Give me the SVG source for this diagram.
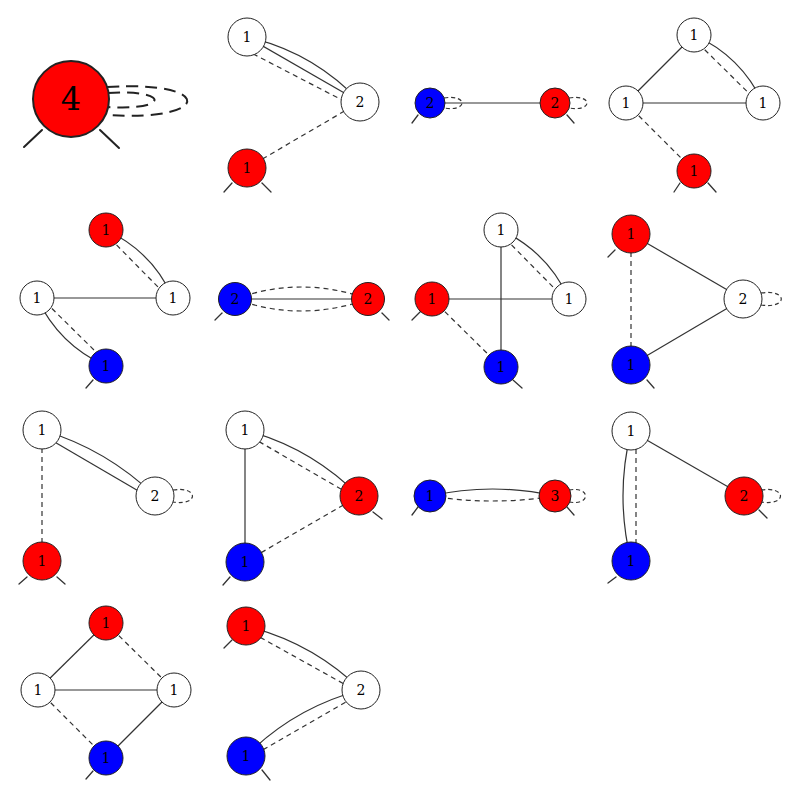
<svg xmlns="http://www.w3.org/2000/svg" width="800" height="800" viewBox="0 0 800 800">
<style>
.e{fill:none;stroke:#333;stroke-width:1.2}
.d{fill:none;stroke:#333;stroke-width:1.2;stroke-dasharray:5,4}
.lg{fill:none;stroke:#333;stroke-width:1.3;stroke-linecap:round}
.n circle{stroke:#222;stroke-width:1}
.w{fill:#fff}.r{fill:#ff0000}.b{fill:#0000ff}
text{font-family:"DejaVu Serif","Liberation Serif",serif;font-size:14px;text-anchor:middle;dominant-baseline:central;fill:#000}
</style>
<rect width="800" height="800" fill="#fff"/>
<g id="connectors">
<!-- panel 1 -->
<path d="M107 87 C214 80,214 122,107 115" style="fill:none;stroke:#222;stroke-width:2;stroke-dasharray:12,7"/>
<path d="M108 93 C170 89,170 111,108 107" style="fill:none;stroke:#222;stroke-width:2;stroke-dasharray:12,7"/>
<line x1="42" y1="130" x2="24" y2="147" style="stroke:#222;stroke-width:2;stroke-linecap:round"/>
<line x1="100" y1="130" x2="119" y2="148" style="stroke:#222;stroke-width:2;stroke-linecap:round"/>
<!-- panel 2 -->
<path class="e" d="M247 37 Q313.5 52.2 360 102"/>
<line class="e" x1="247" y1="37" x2="360" y2="102"/>
<line class="d" x1="245" y1="49.7" x2="352" y2="105.2"/>
<line class="d" x1="360" y1="102" x2="247" y2="168"/>
<line class="lg" x1="232" y1="183" x2="224" y2="192"/>
<line class="lg" x1="262" y1="183" x2="271" y2="192"/>
<!-- panel 3 -->
<line class="e" x1="430" y1="103" x2="555" y2="103"/>
<path class="d" d="M444 98 C468 94,468 112,444 108" style="stroke-dasharray:4,3"/>
<path class="d" d="M569 98 C593 94,593 112,569 108" style="stroke-dasharray:4,3"/>
<line class="lg" x1="418" y1="115" x2="412" y2="123"/>
<line class="lg" x1="567" y1="115" x2="574" y2="123"/>
<!-- panel 4 -->
<line class="e" x1="694" y1="35" x2="626" y2="103"/>
<line class="e" x1="626" y1="103" x2="763" y2="103"/>
<path class="e" d="M694 35 Q741 56 763 103"/>
<line class="d" x1="691.9" y1="37.1" x2="760.9" y2="105.1"/>
<line class="d" x1="626" y1="103" x2="694" y2="171"/>
<line class="lg" x1="680" y1="183" x2="674" y2="192"/>
<line class="lg" x1="708" y1="183" x2="716" y2="192"/>
<!-- panel 5 -->
<path class="e" d="M106 230 Q152.3 251.4 173 298"/>
<line class="d" x1="103.9" y1="232.1" x2="170.9" y2="300.1"/>
<line class="e" x1="37" y1="298" x2="173" y2="298"/>
<path class="e" d="M37 298 Q58.9 344.8 106 366"/>
<line class="d" x1="39.1" y1="295.9" x2="108.1" y2="363.9"/>
<line class="lg" x1="93" y1="380" x2="86" y2="388"/>
<!-- panel 6 -->
<line class="e" x1="235" y1="299" x2="368" y2="299"/>
<path class="d" d="M235 299 Q301.5 275 368 299"/>
<path class="d" d="M235 299 Q301.5 323 368 299"/>
<line class="lg" x1="222" y1="313" x2="215" y2="320"/>
<line class="lg" x1="382" y1="313" x2="389" y2="320"/>
<!-- panel 7 -->
<line class="e" x1="501" y1="230" x2="501" y2="367"/>
<line class="e" x1="432" y1="299" x2="569" y2="299"/>
<path class="e" d="M501 230 Q547.8 251.9 569 299"/>
<line class="d" x1="498.9" y1="232.1" x2="566.9" y2="301.1"/>
<line class="d" x1="432" y1="299" x2="501" y2="367"/>
<line class="lg" x1="420" y1="312" x2="412" y2="320"/>
<line class="lg" x1="513" y1="380" x2="522" y2="388"/>
<!-- panel 8 -->
<line class="e" x1="631" y1="234" x2="743" y2="299"/>
<line class="e" x1="631" y1="365" x2="743" y2="299"/>
<line class="d" x1="631" y1="234" x2="631" y2="365"/>
<path class="d" d="M761 293 C788 289,788 309,761 305" style="stroke-dasharray:4,3"/>
<line class="lg" x1="615" y1="250" x2="608" y2="257"/>
<line class="lg" x1="647" y1="380" x2="654" y2="388"/>
<!-- panel 9 -->
<path class="e" d="M42 430 Q106.6 449.2 155 496"/>
<line class="e" x1="40" y1="433.5" x2="153" y2="499.5"/>
<line class="d" x1="42" y1="430" x2="42" y2="561"/>
<path class="d" d="M173 490 C199 486,199 506,173 502" style="stroke-dasharray:4,3"/>
<line class="lg" x1="27" y1="577" x2="19" y2="584"/>
<line class="lg" x1="57" y1="577" x2="65" y2="584"/>
<!-- panel 10 -->
<line class="e" x1="245" y1="430" x2="245" y2="562"/>
<path class="e" d="M245 430 Q311 447.4 359 496"/>
<line class="d" x1="243.5" y1="432.6" x2="357.5" y2="498.6"/>
<line class="d" x1="359" y1="496" x2="245" y2="562"/>
<line class="lg" x1="373" y1="512" x2="382" y2="519"/>
<line class="lg" x1="230" y1="577" x2="223" y2="585"/>
<!-- panel 11 -->
<path class="e" d="M430 496 Q492.5 482 555 496"/>
<path class="d" d="M430 496 Q492.5 506 555 496"/>
<path class="d" d="M569 490 C591 486,591 506,569 502" style="stroke-dasharray:4,3"/>
<line class="lg" x1="418" y1="507" x2="412" y2="515"/>
<line class="lg" x1="567" y1="507" x2="574" y2="515"/>
<!-- panel 12 -->
<line class="e" x1="631" y1="431" x2="744" y2="496"/>
<path class="e" d="M631 431 Q615 496 631 561"/>
<line class="d" x1="636" y1="431" x2="636" y2="561"/>
<path class="d" d="M761 490 C787 486,787 506,761 502" style="stroke-dasharray:4,3"/>
<line class="lg" x1="759" y1="510" x2="767" y2="518"/>
<line class="lg" x1="616" y1="577" x2="608" y2="583"/>
<!-- panel 13 -->
<line class="e" x1="106" y1="623" x2="38" y2="690"/>
<line class="d" x1="106" y1="623" x2="174" y2="690"/>
<line class="e" x1="38" y1="690" x2="174" y2="690"/>
<line class="d" x1="38" y1="690" x2="106" y2="758"/>
<line class="e" x1="174" y1="690" x2="106" y2="758"/>
<line class="lg" x1="93" y1="771" x2="86" y2="779"/>
<!-- panel 14 -->
<path class="e" d="M246 626 Q312.2 642.3 361 690"/>
<line class="d" x1="244.5" y1="628.6" x2="359.5" y2="692.6"/>
<path class="e" d="M246 756 Q294.5 707.4 361 690"/>
<line class="d" x1="247.5" y1="758.6" x2="362.5" y2="692.6"/>
<line class="lg" x1="232" y1="640" x2="224" y2="648"/>
<line class="lg" x1="262" y1="770" x2="270" y2="780"/>
</g>
<g id="p1-n1" class="n"><circle class="r" cx="71" cy="99" r="38" style="stroke-width:2"/><text x="71" y="99" style="font-size:32px">4</text></g>
<g id="p2-n1" class="n"><circle class="w" cx="247" cy="37" r="19"/><text x="247" y="37">1</text></g>
<g id="p2-n2" class="n"><circle class="w" cx="360" cy="102" r="19"/><text x="360" y="102">2</text></g>
<g id="p2-n3" class="n"><circle class="r" cx="247" cy="168" r="19"/><text x="247" y="168">1</text></g>
<g id="p3-n1" class="n"><circle class="b" cx="430" cy="103" r="15"/><text x="430" y="103">2</text></g>
<g id="p3-n2" class="n"><circle class="r" cx="555" cy="103" r="15"/><text x="555" y="103">2</text></g>
<g id="p4-n1" class="n"><circle class="w" cx="694" cy="35" r="17"/><text x="694" y="35">1</text></g>
<g id="p4-n2" class="n"><circle class="w" cx="626" cy="103" r="17"/><text x="626" y="103">1</text></g>
<g id="p4-n3" class="n"><circle class="w" cx="763" cy="103" r="17"/><text x="763" y="103">1</text></g>
<g id="p4-n4" class="n"><circle class="r" cx="694" cy="171" r="17"/><text x="694" y="171">1</text></g>
<g id="p5-n1" class="n"><circle class="r" cx="106" cy="230" r="17"/><text x="106" y="230">1</text></g>
<g id="p5-n2" class="n"><circle class="w" cx="37" cy="298" r="17"/><text x="37" y="298">1</text></g>
<g id="p5-n3" class="n"><circle class="w" cx="173" cy="298" r="17"/><text x="173" y="298">1</text></g>
<g id="p5-n4" class="n"><circle class="b" cx="106" cy="366" r="17"/><text x="106" y="366">1</text></g>
<g id="p6-n1" class="n"><circle class="b" cx="235" cy="299" r="16.5"/><text x="235" y="299">2</text></g>
<g id="p6-n2" class="n"><circle class="r" cx="368" cy="299" r="16.5"/><text x="368" y="299">2</text></g>
<g id="p7-n1" class="n"><circle class="w" cx="501" cy="230" r="17"/><text x="501" y="230">1</text></g>
<g id="p7-n2" class="n"><circle class="w" cx="569" cy="299" r="17"/><text x="569" y="299">1</text></g>
<g id="p7-n3" class="n"><circle class="r" cx="432" cy="299" r="17"/><text x="432" y="299">1</text></g>
<g id="p7-n4" class="n"><circle class="b" cx="501" cy="367" r="17"/><text x="501" y="367">1</text></g>
<g id="p8-n1" class="n"><circle class="r" cx="631" cy="234" r="19"/><text x="631" y="234">1</text></g>
<g id="p8-n2" class="n"><circle class="w" cx="743" cy="299" r="19"/><text x="743" y="299">2</text></g>
<g id="p8-n3" class="n"><circle class="b" cx="631" cy="365" r="19"/><text x="631" y="365">1</text></g>
<g id="p9-n1" class="n"><circle class="w" cx="42" cy="430" r="19"/><text x="42" y="430">1</text></g>
<g id="p9-n2" class="n"><circle class="w" cx="155" cy="496" r="19"/><text x="155" y="496">2</text></g>
<g id="p9-n3" class="n"><circle class="r" cx="42" cy="561" r="19"/><text x="42" y="561">1</text></g>
<g id="p10-n1" class="n"><circle class="w" cx="245" cy="430" r="19"/><text x="245" y="430">1</text></g>
<g id="p10-n2" class="n"><circle class="r" cx="359" cy="496" r="19"/><text x="359" y="496">2</text></g>
<g id="p10-n3" class="n"><circle class="b" cx="245" cy="562" r="19"/><text x="245" y="562">1</text></g>
<g id="p11-n1" class="n"><circle class="b" cx="430" cy="496" r="16"/><text x="430" y="496">1</text></g>
<g id="p11-n2" class="n"><circle class="r" cx="555" cy="496" r="16"/><text x="555" y="496">3</text></g>
<g id="p12-n1" class="n"><circle class="w" cx="631" cy="431" r="19"/><text x="631" y="431">1</text></g>
<g id="p12-n2" class="n"><circle class="r" cx="744" cy="496" r="19"/><text x="744" y="496">2</text></g>
<g id="p12-n3" class="n"><circle class="b" cx="631" cy="561" r="19"/><text x="631" y="561">1</text></g>
<g id="p13-n1" class="n"><circle class="r" cx="106" cy="623" r="17"/><text x="106" y="623">1</text></g>
<g id="p13-n2" class="n"><circle class="w" cx="38" cy="690" r="17"/><text x="38" y="690">1</text></g>
<g id="p13-n3" class="n"><circle class="w" cx="174" cy="690" r="17"/><text x="174" y="690">1</text></g>
<g id="p13-n4" class="n"><circle class="b" cx="106" cy="758" r="17"/><text x="106" y="758">1</text></g>
<g id="p14-n1" class="n"><circle class="r" cx="246" cy="626" r="19"/><text x="246" y="626">1</text></g>
<g id="p14-n2" class="n"><circle class="w" cx="361" cy="690" r="19"/><text x="361" y="690">2</text></g>
<g id="p14-n3" class="n"><circle class="b" cx="246" cy="756" r="19"/><text x="246" y="756">1</text></g>
</svg>
